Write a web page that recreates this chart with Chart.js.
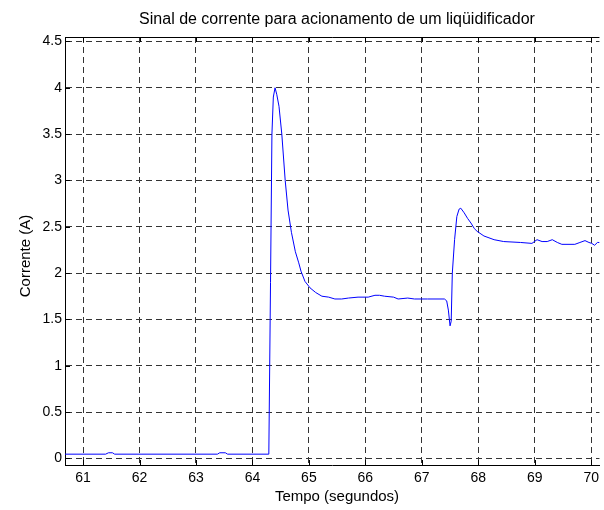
<!DOCTYPE html>
<html>
<head>
<meta charset="utf-8">
<script src="https://cdn.jsdelivr.net/npm/chart.js@4"></script>
<style>
  html, body { margin: 0; padding: 0; background: #fff; }
  canvas { display: block; }
</style>
</head>
<body>
<canvas id="grafico" width="604" height="510"></canvas>
<script>
// valores (tempo em segundos, corrente em A)
const tempo = [
  60.68, 61.40, 61.45, 61.52, 61.56, 63.38, 63.42, 63.52, 63.56, 64.29,
  64.32, 64.345, 64.37, 64.40, 64.43, 64.47, 64.52, 64.58, 64.63, 64.69,
  64.76, 64.82, 64.86, 64.93, 65.02, 65.12, 65.23, 65.35, 65.46, 65.58,
  65.70, 65.87, 66.05, 66.17, 66.25, 66.34, 66.50, 66.58, 66.75, 66.87,
  67.10, 67.40, 67.44, 67.47, 67.50, 67.52, 67.54, 67.58, 67.62, 67.66,
  67.69, 67.75, 67.81, 67.87, 67.93, 67.98, 68.10, 68.28, 68.45, 68.75,
  68.95, 69.04, 69.13, 69.22, 69.31, 69.40, 69.48, 69.71, 69.80, 69.89,
  69.96, 70.01, 70.06, 70.11, 70.15
];
const corrente = [
  0.045, 0.045, 0.06, 0.06, 0.045, 0.045, 0.06, 0.06, 0.045, 0.045,
  1.90, 3.50, 3.90, 4.00, 3.93, 3.80, 3.50, 3.00, 2.68, 2.44,
  2.23, 2.11, 2.02, 1.91, 1.84, 1.79, 1.75, 1.74, 1.72, 1.72,
  1.73, 1.74, 1.74, 1.76, 1.76, 1.75, 1.74, 1.72, 1.73, 1.72,
  1.72, 1.72, 1.70, 1.60, 1.43, 1.48, 2.00, 2.36, 2.61, 2.69,
  2.70, 2.65, 2.59, 2.54, 2.48, 2.45, 2.40, 2.36, 2.34, 2.33,
  2.32, 2.36, 2.34, 2.34, 2.36, 2.33, 2.31, 2.31, 2.33, 2.35,
  2.33, 2.32, 2.30, 2.33, 2.33
];
const xTicks = [61, 62, 63, 64, 65, 66, 67, 68, 69, 70];
const yTicks = [0, 0.5, 1, 1.5, 2, 2.5, 3, 3.5, 4, 4.5];

const titulo = 'Sinal de corrente para acionamento de um liqüidificador';
const rotuloX = 'Tempo (segundos)';
const rotuloY = 'Corrente (A)';

const fonte = '"Liberation Sans", Arial, sans-serif';

// moldura estilo matlab: borda de cima, marcas internas e textos
const moldura = {
  id: 'moldura',
  afterDraw(chart) {
    const ctx = chart.ctx;
    const { left, right, top, bottom } = chart.chartArea;
    const sx = chart.scales.x;
    const sy = chart.scales.y;
    ctx.save();
    ctx.strokeStyle = '#000';
    ctx.lineWidth = 1;
    ctx.beginPath();
    ctx.moveTo(left, top + 0.5);
    ctx.lineTo(right, top + 0.5);
    xTicks.forEach(v => {
      const px = Math.round(sx.getPixelForValue(v)) + 0.5;
      ctx.moveTo(px, bottom);
      ctx.lineTo(px, bottom - 5);
      ctx.moveTo(px, top);
      ctx.lineTo(px, top + 5);
    });
    yTicks.forEach(v => {
      const py = Math.round(sy.getPixelForValue(v)) + 0.5;
      ctx.moveTo(left, py);
      ctx.lineTo(left + 5, py);
    });
    ctx.stroke();

    ctx.fillStyle = '#000';
    ctx.textAlign = 'center';
    ctx.textBaseline = 'alphabetic';
    ctx.font = '16px ' + fonte;
    ctx.fillText(titulo, 337, 24);
    ctx.font = '15px ' + fonte;
    ctx.fillText(rotuloX, 337, 501);
    ctx.translate(30, 256);
    ctx.rotate(-Math.PI / 2);
    ctx.fillText(rotuloY, 0, 0);
    ctx.restore();
  }
};

new Chart(document.getElementById('grafico'), {
  type: 'line',
  data: {
    datasets: [{
      data: tempo.map((t, i) => ({ x: t, y: corrente[i] })),
      borderColor: '#0000ff',
      borderWidth: 1,
      pointRadius: 0,
      tension: 0,
      fill: false
    }]
  },
  options: {
    responsive: false,
    animation: false,
    layout: { padding: { top: 37, left: 0, right: 0, bottom: 0 } },
    plugins: {
      legend: { display: false },
      tooltip: { enabled: false }
    },
    scales: {
      x: {
        type: 'linear',
        min: 60.68,
        max: 70.146,
        afterBuildTicks: s => { s.ticks = xTicks.map(v => ({ value: v })); },
        afterFit: s => { s.height = 45; },
        ticks: {
          color: '#000',
          font: { family: fonte, size: 14 },
          padding: 5,
          maxRotation: 0,
          callback: v => String(v)
        },
        grid: { color: '#333', lineWidth: 1, drawTicks: false },
        border: { display: true, color: '#000', width: 1, dash: [6, 4] }
      },
      y: {
        type: 'linear',
        min: -0.072,
        max: 4.548,
        afterBuildTicks: s => { s.ticks = yTicks.map(v => ({ value: v })); },
        afterFit: s => { s.width = 65; },
        ticks: {
          color: '#000',
          font: { family: fonte, size: 14 },
          padding: 3,
          callback: v => String(v)
        },
        grid: { color: '#333', lineWidth: 1, drawTicks: false },
        border: { display: true, color: '#000', width: 1, dash: [6, 4] }
      }
    }
  },
  plugins: [moldura]
});
</script>
</body>
</html>
